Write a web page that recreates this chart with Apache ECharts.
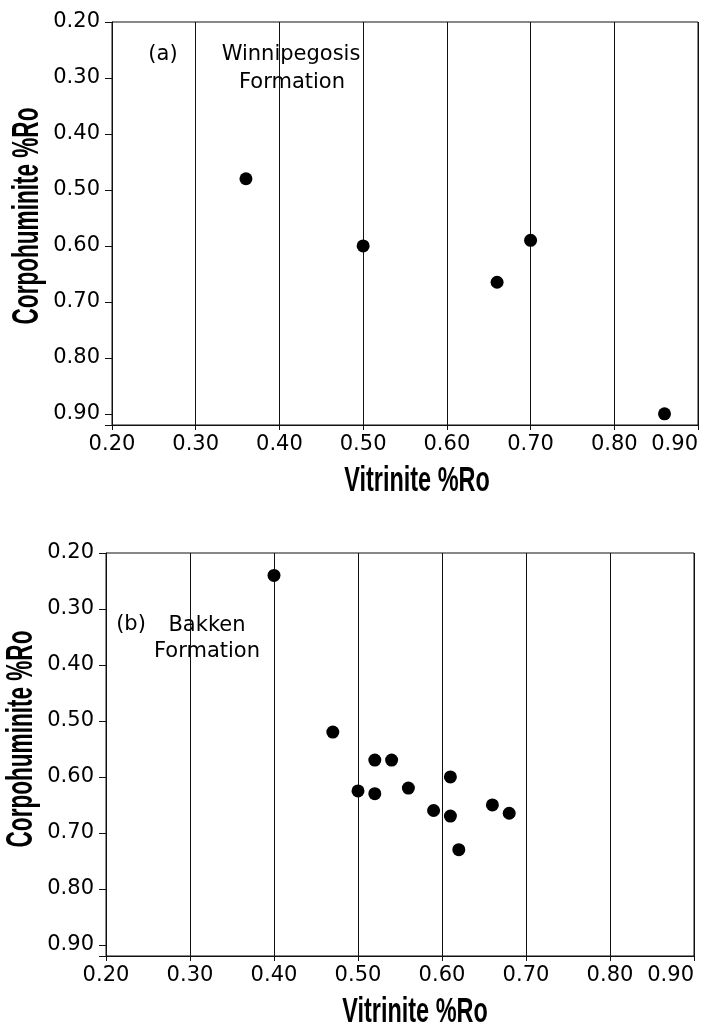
<!DOCTYPE html>
<html style="height: 100%">
<head>
    <meta charset="utf-8">
</head>
<body style="height: 100%; margin: 0; background: #fff">
<div id="container" style="width: 715px; height: 1029px"></div>

<script type="text/javascript" src="https://cdn.jsdelivr.net/npm/echarts@6/dist/echarts.min.js"></script>
<script type="text/javascript">
// (a) Winnipegosis Formation
const winVitrinite = [0.36, 0.50, 0.66, 0.70, 0.86];
const winCorpo = [0.48, 0.60, 0.665, 0.59, 0.90];

// (b) Bakken Formation
const bakVitrinite = [0.40, 0.47, 0.52, 0.54, 0.61, 0.50, 0.52, 0.56, 0.59, 0.61, 0.66, 0.68, 0.62];
const bakCorpo = [0.24, 0.52, 0.57, 0.57, 0.60, 0.625, 0.63, 0.62, 0.66, 0.67, 0.65, 0.665, 0.73];

const xName = 'Vitrinite %Ro';
const yName = 'Corpohuminite %Ro';

const dom = document.getElementById("container");
const myChart = echarts.init(dom);

function pairs(xs, ys) {
    const out = [];
    for (let i = 0; i < xs.length; i++) {
        out.push([xs[i], ys[i]]);
    }
    return out;
}

function tickText(v) {
    // only label the 0.1 steps, not the axis end at 0.92
    if (Math.abs(v * 10 - Math.round(v * 10)) > 1e-6) return '';
    return v.toFixed(2);
}

const labelStyle = {
    color: '#000',
    fontFamily: 'DejaVu Sans',
    fontSize: 21
};

function makeX(idx) {
    return {
        gridIndex: idx,
        type: 'value',
        min: 0.2,
        max: 0.9,
        interval: 0.1,
        axisLine: {show: true, lineStyle: {color: '#111', width: 1}},
        axisTick: {show: true, inside: false, length: 5, lineStyle: {color: '#111'}},
        axisLabel: Object.assign({margin: 9, formatter: tickText, alignMaxLabel: 'right'}, labelStyle),
        splitLine: {show: true, lineStyle: {color: '#111', width: 1}}
    };
}

function makeY(idx) {
    return {
        gridIndex: idx,
        type: 'value',
        inverse: true,
        min: 0.2,
        max: 0.92,
        interval: 0.1,
        axisLine: {show: true, lineStyle: {color: '#111', width: 1}},
        axisTick: {show: true, inside: false, length: 7, lineStyle: {color: '#111'}},
        axisLabel: Object.assign({margin: 12, formatter: tickText}, labelStyle),
        splitLine: {show: false}
    };
}

function txt(text, x, y, size, family, extra, weight) {
    return Object.assign({
        type: 'text',
        x: x,
        y: y,
        style: {
            text: text,
            fill: '#000',
            fontSize: size,
            fontFamily: family,
            fontWeight: weight || 'normal',
            textAlign: 'center',
            textVerticalAlign: 'middle'
        }
    }, extra || {});
}

option = {
    backgroundColor: '#fff',
    animation: false,
    grid: [
        {left: 112, right: 17, top: 22, height: 403, outerBoundsMode: 'none', containLabel: false,
            show: true, borderColor: '#111', borderWidth: 1},
        {left: 106, right: 21, top: 553, height: 403, outerBoundsMode: 'none', containLabel: false,
            show: true, borderColor: '#111', borderWidth: 1}
    ],
    xAxis: [makeX(0), makeX(1)],
    yAxis: [makeY(0), makeY(1)],
    series: [
        {
            name: 'Winnipegosis',
            type: 'scatter',
            xAxisIndex: 0,
            yAxisIndex: 0,
            symbol: 'circle',
            symbolSize: 13,
            itemStyle: {color: '#000', opacity: 1},
            data: pairs(winVitrinite, winCorpo)
        },
        {
            name: 'Bakken',
            type: 'scatter',
            xAxisIndex: 1,
            yAxisIndex: 1,
            symbol: 'circle',
            symbolSize: 13,
            itemStyle: {color: '#000', opacity: 1},
            data: pairs(bakVitrinite, bakCorpo)
        }
    ],
    graphic: [
        // axis titles, condensed look via horizontal scaling
        txt(xName, 417, 481, 35, 'Liberation Sans', {scaleX: 0.67}, 'bold'),
        txt(xName, 415, 1012, 35, 'Liberation Sans', {scaleX: 0.67}, 'bold'),
        txt(yName, 28, 216, 37, 'Liberation Sans', {rotation: Math.PI / 2, scaleX: 0.61}, 'bold'),
        txt(yName, 22, 739, 37, 'Liberation Sans', {rotation: Math.PI / 2, scaleX: 0.61}, 'bold'),
        // panel notes
        txt('(a)', 163, 55, 21, 'DejaVu Sans'),
        txt('Winnipegosis', 291, 55, 21, 'DejaVu Sans'),
        txt('Formation', 292, 83, 21, 'DejaVu Sans'),
        txt('(b)', 131, 625, 21, 'DejaVu Sans'),
        txt('Bakken', 207, 626, 21, 'DejaVu Sans'),
        txt('Formation', 207, 652, 21, 'DejaVu Sans')
    ]
};

if (option && typeof option === "object") {
    myChart.setOption(option, true);
}
</script>
</body>
</html>
